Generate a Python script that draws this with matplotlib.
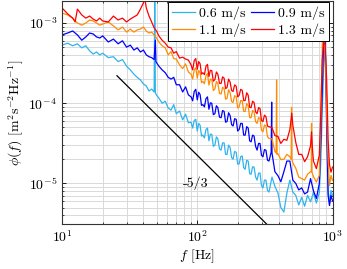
import numpy as np
import matplotlib
matplotlib.use("Agg")
import matplotlib.pyplot as plt

plt.rcParams["font.family"] = "serif"
plt.rcParams["font.serif"] = ["cmr10"]
plt.rcParams["mathtext.fontset"] = "cm"
plt.rcParams["axes.formatter.use_mathtext"] = True
plt.rcParams["font.size"] = 10

# frequency grid [Hz] shared by the four spectra
freq = [10, 11, 12, 13, 14, 15, 16, 17, 18, 19,
        20, 22, 24, 26, 28, 30, 32, 34, 36, 38,
        40, 42, 44, 46, 48, 50, 52, 55, 58, 61,
        64, 67, 70, 74, 78, 82, 86, 90, 95, 100,
        105, 110, 116, 122, 128, 135, 142, 150, 158, 166,
        175, 184, 194, 204, 215, 226, 238, 250, 263, 277,
        291, 306, 322, 339, 357, 375, 395, 415, 437, 460,
        484, 509, 535, 563, 592, 622, 654, 688, 723, 760,
        799, 820, 840, 860, 883, 905, 928, 950, 975, 1000]

# in-between frequencies where the spectra are densest
freq_mid = [92.5, 97.5, 102.5, 107.5, 113, 119, 125, 131.5, 138.5, 146,
            154, 162, 170.5, 179.5, 189, 199, 209.5, 220.5, 232, 244,
            256.5, 270, 284, 298.5, 314, 330.5]

phi_06 = [5.3e-4, 5.6e-4, 5.2e-4, 5.5e-4, 4.9e-4, 5.2e-4, 4.5e-4, 4.1e-4, 4.35e-4, 4.0e-4,
          4.2e-4, 3.7e-4, 3.8e-4, 3.3e-4, 3.5e-4, 2.9e-4, 2.6e-4, 2.3e-4, 2.1e-4, 1.95e-4,
          1.74e-4, 1.64e-4, 1.42e-4, 1.5e-4, 1.38e-4, 1.26e-4, 1.16e-4, 1.0e-4, 1.06e-4, 8.7e-5,
          8.2e-5, 9.6e-5, 7.4e-5, 8.0e-5, 6.2e-5, 7.3e-5, 5.7e-5, 5.8e-5, 6.1e-5, 4.5e-5,
          5.3e-5, 4.0e-5, 4.7e-5, 3.4e-5, 4.1e-5, 3.0e-5, 3.6e-5, 2.6e-5, 3.2e-5, 2.3e-5,
          2.8e-5, 2.0e-5, 2.45e-5, 1.75e-5, 2.2e-5, 1.5e-5, 1.9e-5, 1.3e-5, 1.6e-5, 1.1e-5,
          1.35e-5, 8.8e-6, 1.1e-5, 7.8e-6, 1.2e-5, 9.2e-6, 7.6e-6, 5.0e-6, 4.4e-6, 7.6e-6,
          1.1e-5, 7.8e-6, 7.1e-6, 5.4e-6, 6.7e-6, 5.2e-6, 7.1e-6, 5.9e-6, 7.7e-6, 5.7e-6,
          7.7e-6, 1.95e-5, 8.2e-5, 2.6e-4, 5.3e-4, 1.0e-4, 8.0e-6, 5.8e-6, 8.2e-6, 7.1e-6]
mid_06 = [4.9e-5, 6.3e-5, 5.6e-5, 3.9e-5, 3.7e-5, 4.9e-5, 4.1e-5, 2.9e-5, 3.8e-5, 2.7e-5,
          3.2e-5, 2.3e-5, 3.0e-5, 2.1e-5, 2.5e-5, 1.74e-5, 2.15e-5, 1.57e-5, 1.94e-5, 1.33e-5,
          1.61e-5, 1.2e-5, 1.34e-5, 9.4e-6, 1.1e-5, 8.2e-6]
extra_f_06 = [48.5, 49.0]
extra_phi_06 = [2.5e-3, 1.35e-4]

phi_09 = [7.1e-4, 7.5e-4, 7.95e-4, 7.1e-4, 6.1e-4, 6.7e-4, 7.5e-4, 7.3e-4, 6.7e-4, 6.5e-4,
          6.9e-4, 5.8e-4, 6.3e-4, 5.5e-4, 6.0e-4, 5.0e-4, 5.3e-4, 4.6e-4, 4.9e-4, 4.35e-4,
          4.6e-4, 4.0e-4, 3.8e-4, 3.7e-4, 3.5e-4, 3.2e-4, 2.9e-4, 2.6e-4, 2.4e-4, 2.1e-4,
          2.0e-4, 2.1e-4, 1.7e-4, 1.7e-4, 1.38e-4, 1.6e-4, 1.27e-4, 1.2e-4, 1.4e-4, 1.1e-4,
          1.28e-4, 9.6e-5, 1.14e-4, 8.4e-5, 1.0e-4, 7.4e-5, 8.8e-5, 6.6e-5, 7.9e-5, 5.9e-5,
          7.0e-5, 5.2e-5, 6.3e-5, 4.7e-5, 5.6e-5, 4.0e-5, 4.9e-5, 3.3e-5, 3.9e-5, 2.6e-5,
          3.15e-5, 2.15e-5, 2.6e-5, 1.9e-5, 2.4e-5, 1.4e-5, 1.25e-5, 1.05e-5, 1.4e-5, 1.9e-5,
          1.9e-5, 1.1e-5, 1.0e-5, 8.3e-6, 8.8e-6, 7.4e-6, 7.8e-6, 1.15e-5, 8.1e-6, 6.5e-6,
          1.0e-5, 3.5e-5, 1.46e-4, 6.1e-4, 6.0e-4, 5.0e-5, 7.1e-6, 5.3e-6, 7.1e-6, 6.1e-6]
mid_09 = [1.07e-4, 1.49e-4, 1.37e-4, 9.4e-5, 9.0e-5, 1.2e-4, 1.01e-4, 7.2e-5, 9.3e-5, 6.7e-5,
          8.1e-5, 5.8e-5, 7.6e-5, 5.4e-5, 6.4e-5, 4.5e-5, 5.6e-5, 4.0e-5, 5.1e-5, 3.4e-5,
          4.0e-5, 2.9e-5, 3.15e-5, 2.24e-5, 2.64e-5, 1.95e-5]
extra_f_09 = [49.0, 49.5, 352, 355, 875]
extra_phi_09 = [6.1e-4, 3.3e-4, 2.45e-5, 1.03e-4, 8.7e-4]

phi_11 = [1.33e-3, 1.26e-3, 1.15e-3, 1.0e-3, 9.4e-4, 1.0e-3, 1.09e-3, 1.06e-3, 1.0e-3, 9.4e-4,
          9.7e-4, 1.03e-3, 9.2e-4, 8.2e-4, 8.9e-4, 7.7e-4, 8.4e-4, 7.7e-4, 8.2e-4, 8.4e-4,
          8.9e-4, 7.95e-4, 7.5e-4, 7.7e-4, 7.1e-4, 6.5e-4, 5.8e-4, 5.2e-4, 4.9e-4, 4.0e-4,
          4.4e-4, 3.6e-4, 3.55e-4, 3.0e-4, 2.7e-4, 3.1e-4, 2.45e-4, 2.3e-4, 2.6e-4, 2.05e-4,
          2.4e-4, 1.88e-4, 2.2e-4, 1.68e-4, 1.97e-4, 1.5e-4, 1.76e-4, 1.3e-4, 1.52e-4, 1.15e-4,
          1.35e-4, 1.02e-4, 1.21e-4, 9.0e-5, 1.07e-4, 7.9e-5, 9.3e-5, 6.6e-5, 7.8e-5, 5.6e-5,
          6.5e-5, 4.4e-5, 5.2e-5, 3.65e-5, 3.6e-5, 2.5e-5, 2.35e-5, 1.98e-5, 2.0e-5, 2.3e-5,
          2.15e-5, 1.8e-5, 1.55e-5, 1.2e-5, 1.15e-5, 1.1e-5, 1.3e-5, 1.4e-5, 1.22e-5, 1.04e-5,
          1.26e-5, 6.1e-5, 4.0e-4, 6.1e-4, 5.0e-4, 8.2e-5, 1.95e-5, 9.4e-6, 1.26e-5, 1.09e-5]
mid_11 = [2.0e-4, 2.77e-4, 2.55e-4, 1.8e-4, 1.75e-4, 2.34e-4, 2.0e-4, 1.44e-4, 1.86e-4, 1.33e-4,
          1.58e-4, 1.12e-4, 1.47e-4, 1.05e-4, 1.24e-4, 8.7e-5, 1.08e-4, 7.9e-5, 9.9e-5, 6.6e-5,
          8.1e-5, 5.9e-5, 6.6e-5, 4.6e-5, 5.35e-5, 3.84e-5]
extra_f_11 = [383, 386, 389, 495, 498, 501, 697, 700, 703, 835, 842, 846]
extra_phi_11 = [2.4e-5, 1.95e-4, 2.3e-5, 2.0e-5, 8.9e-5, 2.0e-5, 1.4e-5, 5.6e-5, 1.4e-5,
                3.0e-4, 2.5e-3, 6.0e-4]

phi_13 = [1.54e-3, 1.3e-3, 1.15e-3, 1.49e-3, 1.26e-3, 1.15e-3, 1.22e-3, 1.12e-3, 1.06e-3, 1.15e-3,
          1.06e-3, 1.03e-3, 1.22e-3, 1.09e-3, 1.15e-3, 1.03e-3, 1.12e-3, 1.19e-3, 1.26e-3, 1.49e-3,
          1.78e-3, 1.54e-3, 1.22e-3, 1.03e-3, 8.7e-4, 7.95e-4, 6.9e-4, 6.1e-4, 5.6e-4, 5.0e-4,
          4.9e-4, 4.2e-4, 4.4e-4, 3.65e-4, 3.75e-4, 3.55e-4, 3.45e-4, 3.0e-4, 3.4e-4, 2.65e-4,
          3.1e-4, 2.4e-4, 2.9e-4, 2.15e-4, 2.55e-4, 1.97e-4, 2.3e-4, 1.76e-4, 2.05e-4, 1.57e-4,
          1.83e-4, 1.4e-4, 1.63e-4, 1.25e-4, 1.45e-4, 1.08e-4, 1.26e-4, 8.8e-5, 1.02e-4, 7.4e-5,
          8.6e-5, 5.9e-5, 6.8e-5, 5.1e-5, 4.95e-5, 3.95e-5, 3.85e-5, 3.15e-5, 3.55e-5, 3.45e-5,
          4.7e-5, 5.3e-5, 3.25e-5, 2.3e-5, 2.3e-5, 1.87e-5, 2.15e-5, 2.95e-5, 1.9e-5, 1.53e-5,
          2.25e-5, 8.2e-5, 3.5e-4, 5.8e-4, 5.3e-4, 2.0e-4, 3.5e-5, 1.7e-5, 1.38e-5, 1.6e-5]
mid_13 = [2.6e-4, 3.6e-4, 3.3e-4, 2.3e-4, 2.27e-4, 3.05e-4, 2.57e-4, 1.88e-4, 2.45e-4, 1.77e-4,
          2.13e-4, 1.52e-4, 2.0e-4, 1.44e-4, 1.69e-4, 1.2e-4, 1.49e-4, 1.08e-4, 1.35e-4, 8.9e-5,
          1.06e-4, 7.8e-5, 8.8e-5, 6.1e-5, 7.1e-5, 5.2e-5]
extra_f_13 = [12.5, 41, 500, 700, 712]
extra_phi_13 = [1.03e-3, 2.0e-3, 7.5e-5, 4.4e-5, 2.6e-5]

labels = ["0.6 m/s", "0.9 m/s", "1.1 m/s", "1.3 m/s"]
colors = ["#2db4ef", "#0000ff", "#ff8c00", "#ff0000"]

# -5/3 reference slope
slope_f = [25.5, 340]
slope_phi = [2.2e-4, 2.9e-6]


def merge(f, p, fm, pm, ef, ep):
    ff = np.concatenate([f, fm, ef])
    pp = np.concatenate([p, pm, ep])
    order = np.argsort(ff, kind="stable")
    return ff[order], pp[order]


series = [
    merge(freq, phi_06, freq_mid, mid_06, extra_f_06, extra_phi_06),
    merge(freq, phi_09, freq_mid, mid_09, extra_f_09, extra_phi_09),
    merge(freq, phi_11, freq_mid, mid_11, extra_f_11, extra_phi_11),
    merge(freq, phi_13, freq_mid, mid_13, extra_f_13, extra_phi_13),
]

fig = plt.figure(figsize=(3.47, 2.69), dpi=100)
ax = fig.add_axes([62 / 347, 1 - 224 / 269, 270.5 / 347, 223 / 269])

lines = []
for (f, p), lab, c in zip(series, labels, colors):
    ln, = ax.plot(f, p, color=c, lw=0.9, label=lab)
    lines.append(ln)

ax.plot(slope_f, slope_phi, color="black", lw=0.9)
ax.text(97, 1.0e-5, "-5/3", ha="center", va="center")

ax.set_xscale("log")
ax.set_yscale("log")
ax.set_xlim(10, 1000)
ax.set_ylim(3.12e-6, 1.88e-3)
ax.grid(True, which="both", color="#d9d9d9", lw=0.7)
ax.set_axisbelow(True)
ax.tick_params(which="both", direction="in", top=True, right=True)
ax.tick_params(which="major", length=3, width=0.6)
ax.tick_params(which="minor", length=1.5, width=0.5)
for s in ax.spines.values():
    s.set_linewidth(0.8)
    s.set_color("#333333")

ax.set_xlabel(r"$f$ [Hz]", labelpad=2)
ax.set_ylabel(r"$\phi(f)$ [m$^2$s$^{-2}$Hz$^{-1}$]", labelpad=2)

# legend filled row-wise like the original
order = [0, 2, 1, 3]
leg = ax.legend([lines[i] for i in order], [labels[i] for i in order],
                ncol=2, loc="upper right", bbox_to_anchor=(0.987, 0.996),
                borderaxespad=0, fancybox=False, framealpha=1,
                edgecolor="black", handlelength=1.65, handletextpad=0.3,
                columnspacing=0.35, borderpad=0.3, labelspacing=0.3)
leg.get_frame().set_linewidth(0.7)

fig.savefig("out.png", dpi=100)
